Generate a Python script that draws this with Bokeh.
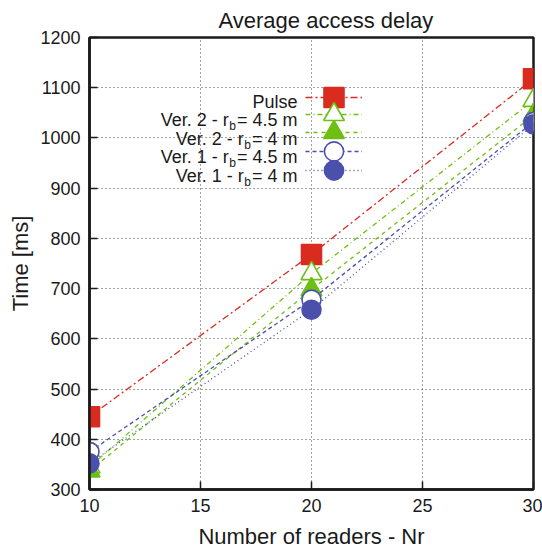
from bokeh.plotting import figure
from bokeh.models import Range1d, Legend, LegendItem, Label, FixedTicker
from bokeh.embed import file_html
from bokeh.resources import INLINE

# ---------------- data ----------------
readers = [10, 20, 30]
pulse = [445, 768, 1118]
ver2_r45 = [345, 730, 1075]
ver2_r4 = [337, 698, 1045]
ver1_r45 = [375, 678, 1032]
ver1_r4 = [352, 658, 1027]

x_ticks = [10, 15, 20, 25, 30]
y_ticks = [300, 400, 500, 600, 700, 800, 900, 1000, 1100, 1200]

legend_main = ["Pulse", "Ver. 2 - r", "Ver. 2 - r", "Ver. 1 - r", "Ver. 1 - r"]
legend_sub = ["", "b", "b", "b", "b"]
legend_tail = ["", "= 4.5 m", "= 4 m", "= 4.5 m", "= 4 m"]

title_text = "Average access delay"
x_title = "Number of readers - Nr"
y_title = "Time [ms]"

# ---------------- style ----------------
RED = "#d92b1e"
GREEN = "#6dbf13"
BLUE = "#4b50ad"
FONT = "Liberation Sans"
TXT = "#1a1a1a"

series = [
    dict(y=pulse, color=RED, dash="7 3 2 3", marker="square", filled=True, size=20),
    dict(y=ver2_r45, color=GREEN, dash="5 3 1 3", marker="triangle", filled=False, size=21),
    dict(y=ver2_r4, color=GREEN, dash="4 4", marker="triangle", filled=True, size=21),
    dict(y=ver1_r45, color=BLUE, dash="4 3", marker="circle", filled=False, size=19),
    dict(y=ver1_r4, color=BLUE, dash="1 3", marker="circle", filled=True, size=19),
]

# frame geometry (pixels in the page)
W, H = 542, 552
FL, FR, FT, FB = 89, 533, 37, 489

p = figure(width=W, height=H, x_range=Range1d(10, 30), y_range=Range1d(300, 1200),
           output_backend="svg", toolbar_location=None,
           min_border_left=FL, min_border_right=W - FR,
           min_border_top=FT, min_border_bottom=H - FB,
           title=title_text)
p.outline_line_color = TXT
p.outline_line_width = 2.5
p.background_fill_color = "white"
p.border_fill_color = "white"

p.title.text_font = FONT
p.title.text_font_size = "22px"
p.title.text_font_style = "normal"
p.title.text_color = TXT
p.title.align = "left"
p.title.offset = 218 - FL

p.xaxis.ticker = FixedTicker(ticks=x_ticks)
p.yaxis.ticker = FixedTicker(ticks=y_ticks)
for ax in (p.xaxis[0], p.yaxis[0]):
    ax.axis_line_width = 2.5
    ax.axis_line_color = TXT
    ax.major_tick_in = 8
    ax.major_tick_out = 0
    ax.major_tick_line_width = 1.5
    ax.major_tick_line_color = TXT
    ax.minor_tick_line_color = None
    ax.major_label_text_font = FONT
    ax.major_label_text_color = TXT
    ax.major_label_text_font_size = "18px"
    ax.major_label_standoff = 9
    ax.axis_label_text_font = FONT
    ax.axis_label_text_font_size = "22px"
    ax.axis_label_text_font_style = "normal"
    ax.axis_label_text_color = TXT

p.yaxis[0].axis_label = y_title
p.yaxis[0].axis_label_standoff = 4
p.xaxis[0].axis_label = x_title
p.xaxis[0].axis_label_standoff = 9

p.xgrid.ticker = FixedTicker(ticks=x_ticks)
p.ygrid.ticker = FixedTicker(ticks=y_ticks)
for g in (p.xgrid, p.ygrid):
    g.grid_line_color = "#444444"
    g.grid_line_dash = "1 3"
    g.grid_line_width = 1

# legend layout: one single-entry legend per row (glyph sample only);
# the row text is drawn to its left, right-aligned, as in the reference.
row_center = [97, 114, 132, 151, 170]
row_base = [101, 119, 138, 156, 175]
GLYPH_L, GLYPH_W = 305, 57

for s, cy in zip(series, row_center):
    lr = p.line(readers, s["y"], line_color=s["color"], line_width=1.3,
                line_dash=s["dash"])
    sr = p.scatter(readers, s["y"], marker=s["marker"], size=s["size"],
                   line_color=s["color"], line_width=1.6,
                   fill_color=s["color"] if s["filled"] else "white")
    gh = int(round(s["size"] / 0.4))
    lg = Legend(items=[LegendItem(label=" ", renderers=[lr, sr])],
                location=(GLYPH_L - FL, FB - cy - gh / 2.0),
                glyph_width=GLYPH_W, glyph_height=gh, label_height=10,
                label_width=0, label_standoff=0, spacing=0, padding=0, margin=0,
                border_line_color=None, background_fill_alpha=0,
                label_text_font_size="1px")
    p.add_layout(lg)

# legend texts, Arial-like advance widths (per 1000 em)
ADV = {" ": 278, "=": 584, "4": 556, ".": 278, "5": 556, "m": 833, "b": 556}
LEG_FS = 18
SUB_FS = 12


def tw(s, size):
    return sum(ADV[c] for c in s) * size / 1000.0


RIGHT = 297
for main, sub, tail, yb in zip(legend_main, legend_sub, legend_tail, row_base):
    x_right = RIGHT
    if tail:
        p.add_layout(Label(x=x_right - FL, y=FB - yb, x_units="screen", y_units="screen",
                           text=tail, text_align="right", text_baseline="alphabetic",
                           text_font=FONT, text_font_size=f"{LEG_FS}px", text_color=TXT))
        x_right -= tw(tail, LEG_FS) + 1
    if sub:
        p.add_layout(Label(x=x_right - FL, y=FB - yb - 6.5, x_units="screen", y_units="screen",
                           text=sub, text_align="right", text_baseline="alphabetic",
                           text_font=FONT, text_font_size=f"{SUB_FS}px", text_color=TXT))
        x_right -= tw(sub, SUB_FS) + 0.5
    p.add_layout(Label(x=x_right - FL, y=FB - yb, x_units="screen", y_units="screen",
                       text=main, text_align="right", text_baseline="alphabetic",
                       text_font=FONT, text_font_size=f"{LEG_FS}px", text_color=TXT))

open("out.html", "w").write(file_html(p, INLINE))
